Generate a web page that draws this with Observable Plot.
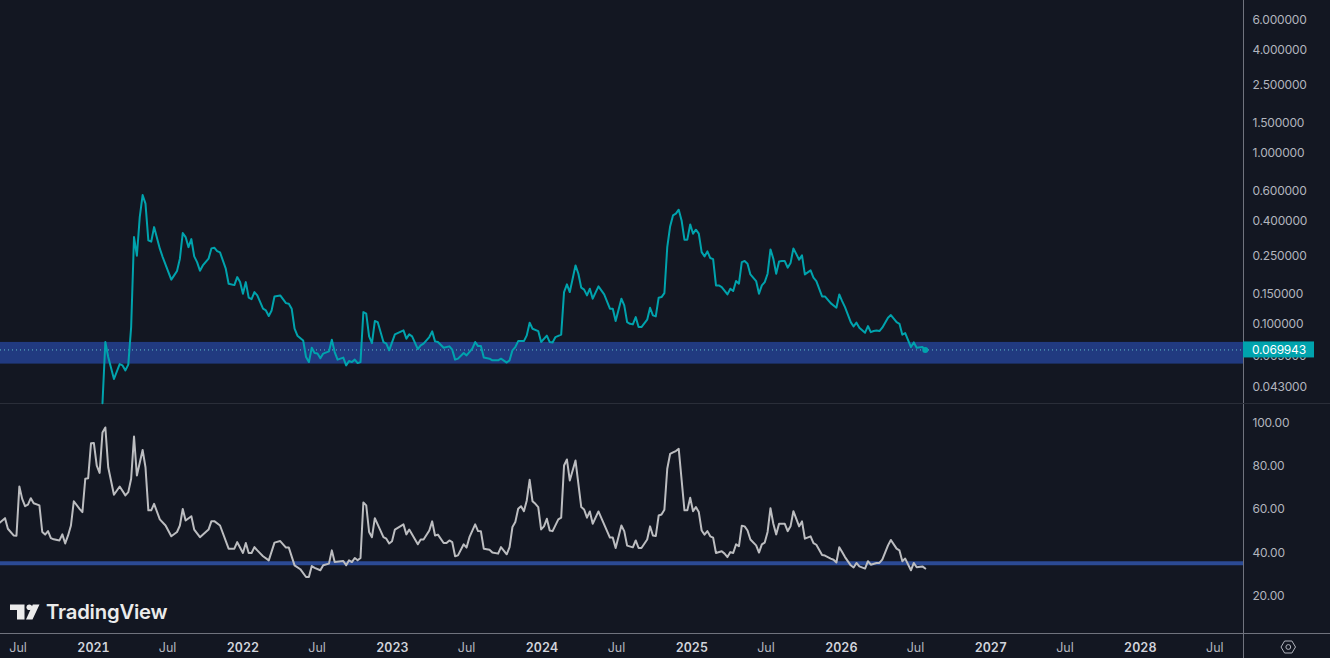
<!DOCTYPE html>
<html>
<head>
<meta charset="utf-8">
<script src="https://cdn.jsdelivr.net/npm/d3@7"></script>
<script src="https://cdn.jsdelivr.net/npm/@observablehq/plot@0.6"></script>
<style>
  html, body { margin: 0; padding: 0; background: #131722; }
  body { width: 1330px; height: 658px; overflow: hidden; position: relative; font-family: Inter, sans-serif; }
  #chart svg { display: block; }
  #chart svg [aria-label="text"] { letter-spacing: -0.2px; }
  #brand { position: absolute; left: 10px; top: 600px; display: flex; align-items: center; color: #ebebeb; }
  #brand span { font: 600 20.3px/24px Inter, sans-serif; margin-left: 6px; letter-spacing: -0.2px; }
</style>
</head>
<body>
<div id="chart"></div>
<div id="brand">
  <svg width="30" height="16" viewBox="0 0 30 16"><path fill="#ebebeb" d="M0 0.5H14.5V15.5H7V6H0Z M22.8 0.5H29.5L22.5 15.5H16Z"/><circle cx="19.3" cy="3.3" r="2.8" fill="#ebebeb"/></svg>
  <span>TradingView</span>
</div>
<script>
// Weekly bars, counted from the day below.
const firstWeek = [2020, 4, 16];

const priceWeeks = [36,37,38,40,42,43,44,45,46,47,48,49,50,51,52,53,54,56,57,60,61,62,63,64,65,66,67,68,69,70,71,73,74,75,76,77,79,80,82,83,84,85,86,87,88,89,90,92,93,94,95,96,98,100,101,102,103,104,106,107,108,109,110,111,112,113,115,116,117,118,120,121,122,123,124,125,126,127,128,129,130,131,132,134,135,136,138,141,142,143,144,146,147,148,150,151,152,153,155,157,158,159,160,162,163,165,166,167,168,169,171,172,174,175,177,178,179,180,181,183,184,185,186,188,189,191,192,193,194,196,197,198,199,201,202,203,204,205,206,207,209,211,213,214,215,217,218,219,220,221,222,223,224,226,227,228,229,230,231,232,233,234,235,236,237,238,239,240,241,242,243,244,245,246,247,248,249,250,251,252,254,255,256,257,258,259,260,261,262,264,265,266,267,268,269,270,271,272,273,274,275,276,277,279,280,281,283,284,285,287,288,290,291,292,293,294,295,297,298,299,300,302,303,304,305,306,307,308,310,311,313,314,315,316,318,319,320,322,323];
const priceValues = [.0341,.0778,.0636,.0473,.0578,.0568,.0531,.0574,.0952,.3198,.2490,.4186,.5632,.5015,.3059,.3006,.3658,.2735,.2443,.1802,.1909,.2024,.2391,.3375,.3198,.2794,.3113,.2466,.2284,.2033,.2184,.2391,.2746,.2772,.2649,.2602,.2089,.1707,.1675,.1866,.1744,.1492,.1744,.1414,.1387,.1525,.1458,.1219,.1191,.1104,.1191,.1438,.1458,.1314,.1304,.1219,.0931,.0848,.0795,.0636,.0594,.0721,.0671,.0666,.0625,.0666,.0686,.0803,.0680,.0614,.0631,.0568,.0603,.0594,.0614,.0586,.0594,.1164,.1140,.0839,.0767,.1032,.1018,.0778,.0761,.0696,.0862,.0910,.0814,.0862,.0839,.0708,.0744,.0761,.0832,.0898,.0785,.0778,.0721,.0734,.0702,.0614,.0622,.0671,.0650,.0712,.0778,.0737,.0737,.0631,.0622,.0608,.0608,.0622,.0590,.0608,.0696,.0727,.0788,.0788,.0851,.1010,.0931,.0902,.0778,.0848,.0778,.0774,.0832,.0859,.1525,.1691,.1525,.2184,.1953,.1618,.1575,.1458,.1596,.1395,.1646,.1478,.1219,.1219,.1032,.1395,.1274,.1018,.0995,.0987,.1088,.0952,.0952,.1051,.1235,.1114,.1099,.1414,.1425,.1504,.2794,.3693,.4283,.4383,.4625,.4004,.3088,.3088,.3794,.3348,.3533,.3348,.2612,.2466,.2637,.2411,.2378,.1668,.1668,.1631,.1478,.1596,.1546,.1769,.1708,.2284,.2316,.2235,.1935,.1769,.1492,.1668,.1744,.1953,.2709,.2391,.1953,.2305,.2316,.2316,.2118,.2253,.2746,.2359,.2499,.1935,.2042,.1851,.1769,.1438,.1438,.1314,.1274,.1235,.1478,.1351,.1245,.1018,.0960,.1010,.0944,.0882,.0965,.0889,.0902,.0910,.0902,.0944,.1080,.1119,.1018,.0995,.0859,.0877,.0727,.0774,.0721,.0727,.069943];

const rsiWeeks = [0,2,3,5,6,7,8,9,10,11,12,14,15,16,17,18,19,21,22,23,24,25,26,28,29,30,31,32,33,34,35,36,37,38,40,42,44,45,46,47,48,50,51,52,53,54,56,58,60,62,63,64,65,67,68,70,73,74,75,77,80,82,83,85,86,87,88,89,90,92,94,96,98,100,101,103,105,107,108,109,110,112,113,115,116,117,120,121,122,123,124,125,126,127,128,129,130,131,134,135,136,137,138,141,142,143,146,147,148,150,151,152,153,155,156,157,158,159,160,162,163,164,166,167,168,169,171,172,174,175,177,178,179,180,181,182,183,184,185,186,187,188,189,190,191,192,193,195,196,197,198,199,201,203,204,205,206,207,209,213,214,215,217,218,219,221,222,223,224,226,227,228,229,230,231,232,233,234,235,236,237,239,240,241,242,243,244,245,246,247,248,249,250,252,253,254,255,256,257,258,259,260,261,262,264,265,266,267,268,269,270,271,272,274,275,276,277,279,280,281,283,284,285,287,288,290,291,292,293,294,295,297,298,299,300,302,303,304,306,307,308,310,311,313,314,315,316,318,319,320,322,323];
const rsiValues = [53.5,55.8,50.9,47.8,47.7,70.4,64.7,61.3,62,65,62.7,61.7,49.4,48.2,49.8,46.6,46,45.5,48.3,44.1,47.8,52.4,63.6,60.1,58.6,74,74.2,90.4,90.5,80.1,76.7,95.4,97.7,79.3,66.6,70.4,66.3,67.8,74,93.5,75.5,87.3,79.3,59.4,59.4,62.4,55.2,52.4,47.4,49.4,52.4,60,54.7,56.7,50.5,47,50.5,54.4,54.4,52.4,41.7,41.7,44.7,39.7,44.3,39.7,39.7,42.4,40.9,38.2,36.3,44.5,45.2,42.2,42.2,34,32.2,28.6,28.6,33.7,32.8,31.7,34,34.8,40.9,35.5,36,34,36.3,35.5,37.4,36.3,37.4,63,61.7,49.4,47,55.8,47,46.3,44.1,45.1,50.5,52.9,48.3,50.5,43.7,45.9,45.9,50.1,54.3,47.8,48.2,44.3,44.3,45.5,44.7,38.2,38.6,43.7,42.2,47,52.9,49.8,49.7,41.7,41.2,39.9,39.4,42.4,39.1,42.4,51.7,54,60.1,61.3,59,64,73.5,63.6,62.4,60.9,50.6,52,55.5,50.1,49.8,55.2,56,80.1,82.9,73.2,82.4,60.9,59.8,56,58.9,53.2,58.9,46.8,46.8,42,52.4,49.8,43.1,42.3,45.5,42,42,45.9,52,47.8,47.5,57,57.5,59.7,78.6,85.5,86.2,86.8,87.8,59.4,59.4,65.2,59,60.9,58.6,50.1,48.2,49.8,47.4,46.8,39.7,40.5,39.4,37.8,40.1,39.7,43.7,42.8,52.3,52,50.1,45.9,43.2,39.9,43.7,44.5,49.4,60.4,53.2,48.3,53.2,53.2,49.8,52,59,52,54.3,46.3,47.4,44.3,43.5,38.8,38.5,37.1,36.6,35.3,42.4,40.1,37.8,34,33,35.1,33.5,32.5,35.9,34.3,35.1,35.1,36.6,43.2,45.7,41.7,40.9,35.9,37.1,31.7,35.1,33.1,33.5,32.5];

const priceTicks = [6, 4, 2.5, 1.5, 1, 0.6, 0.4, 0.25, 0.15, 0.1, 0.065, 0.043];
const rsiTicks = [100, 80, 60, 40, 20];
const julyYears = [2020, 2021, 2022, 2023, 2024, 2025, 2026, 2027, 2028];
const yearTicks = [2021, 2022, 2023, 2024, 2025, 2026, 2027, 2028];
const supportBand = [0.0578, 0.0774];
const rsiLevel = [35];
const lastPrice = 0.069943;

const weekDate = w => new Date(Date.UTC(firstWeek[0], firstWeek[1], firstWeek[2] + 7 * w));
const price = priceWeeks.map((w, i) => ({date: weekDate(w), value: priceValues[i]}));
const rsi = rsiWeeks.map((w, i) => ({date: weekDate(w), value: rsiValues[i]}));

const xDomain = [new Date(Date.UTC(2020, 4, 19)), new Date(Date.UTC(2028, 8, 9))];
const priceDomain = [0.034, 7.74];
const rsiDomain = [2.5, 108.3];
const teal = "#00a3ad", grid = "#2a2e39", edge = "#70737e", label = "#b2b5be", strong = "#d1d4dc";
const common = {
  width: 1330, marginLeft: 0, marginRight: 87, marginTop: 0,
  style: {background: "transparent", fontFamily: "Inter, sans-serif", fontSize: "12.5px", overflow: "visible"}
};
const xScale = {type: "utc", domain: xDomain, range: [0, 1243]};

const lastLabel = (_, {y}) => {
  const g = d3.create("svg:g");
  g.append("rect").attr("x", 1243).attr("y", y(lastPrice) - 8).attr("width", 71).attr("height", 16).attr("fill", "#00a3ad");
  g.append("text").attr("x", 1252).attr("y", y(lastPrice) + 0.5).attr("dy", "0.35em").attr("fill", "#ffffff")
    .attr("text-anchor", "start").attr("font-size", 12).attr("letter-spacing", "-0.2px").text(d3.format(".6f")(lastPrice));
  return g.node();
};
const settingsIcon = () => {
  const g = d3.create("svg:g").attr("fill", "none").attr("stroke", label).attr("stroke-width", 1);
  g.append("path").attr("d", "M1281 243L1284.6 237H1291.9L1295.5 243L1291.9 249H1284.6Z");
  g.append("circle").attr("cx", 1288.3).attr("cy", 243).attr("r", 2.4);
  return g.node();
};
const axisLabels = (ticks, format, dy) => Plot.text(ticks, {
  x: () => xDomain[1], y: d => d, text: format, dx: 9, dy, textAnchor: "start", fill: label, fontSize: 12
});

const upperPanel = Plot.plot({
  ...common, height: 404, marginBottom: 1,
  x: {...xScale, axis: null},
  y: {type: "log", domain: priceDomain, range: [403, 0], axis: null},
  marks: [
    Plot.rect([supportBand], {x1: () => xDomain[0], x2: () => xDomain[1], y1: d => d[0], y2: d => d[1], fill: "#213a80"}),
    Plot.ruleY([lastPrice], {stroke: "#62bdc9", strokeWidth: 1, strokeDasharray: "1 3"}),
    axisLabels(priceTicks, d3.format(".6f"), 1),
    Plot.ruleX([xDomain[1]], {stroke: edge, strokeWidth: 1}),
    Plot.ruleY([priceDomain[0]], {stroke: grid, strokeWidth: 1, insetRight: -87}),
    Plot.line(price, {x: "date", y: "value", stroke: teal, strokeWidth: 2, curve: "linear"}),
    Plot.dot(price.slice(-1), {x: "date", y: "value", r: 3, fill: teal}),
    lastLabel
  ]
});

const lowerPanel = Plot.plot({
  ...common, height: 254, marginBottom: 25,
  x: {...xScale, axis: null},
  y: {domain: rsiDomain, range: [229, 0], axis: null},
  marks: [
    Plot.ruleY(rsiLevel, {stroke: "#2b4a94", strokeWidth: 4}),
    axisLabels(rsiTicks, d3.format(".2f"), 0.5),
    Plot.line(rsi, {x: "date", y: "value", stroke: "#bcbdc0", strokeWidth: 2, curve: "linear"}),
    Plot.ruleY([rsiDomain[0]], {stroke: edge, strokeWidth: 1, insetRight: -87}),
    Plot.ruleX([xDomain[1]], {stroke: edge, strokeWidth: 1, insetBottom: -25}),
    Plot.axisX({anchor: "bottom", ticks: julyYears.map(y => new Date(Date.UTC(y, 6, 1))), tickFormat: () => "Jul", tickSize: 0, tickPadding: 10, label: null, fill: label}),
    Plot.axisX({anchor: "bottom", ticks: yearTicks.map(y => new Date(Date.UTC(y, 0, 1))), tickFormat: d3.utcFormat("%Y"), tickSize: 0, tickPadding: 10, label: null, fill: strong, fontWeight: 600}),
    settingsIcon
  ]
});

document.getElementById("chart").append(upperPanel, lowerPanel);
</script>
</body>
</html>
